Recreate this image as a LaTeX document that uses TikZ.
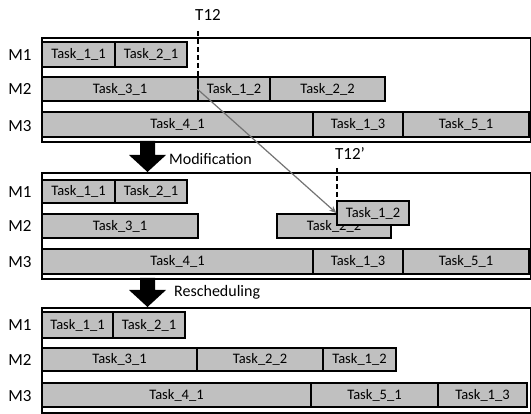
\documentclass[tikz,border=0pt]{standalone}
\usepackage{fontspec}
\setmainfont{Carlito}
\usetikzlibrary{arrows.meta}
\definecolor{taskgray}{RGB}{192,192,192}
\tikzset{
  task/.style={draw=black, line width=1.4pt, fill=taskgray, inner sep=0pt, font=\fontsize{14.5}{16}\selectfont},
  frame/.style={draw=black, line width=1.8pt},
  mlabel/.style={font=\fontsize{17}{19}\selectfont, inner sep=0pt},
  biglabel/.style={font=\fontsize{16}{18}\selectfont, inner sep=0pt, anchor=west},
  tline/.style={draw=black, line width=1.6pt, dash pattern=on 5pt off 3pt},
  bigarrow/.style={fill=black},
  moveline/.style={draw=black!55, line width=1.2pt, -{Stealth[length=7pt,width=6pt]}}
}
\newcommand\tk[6]{\node[task, minimum width={(#4-#2)*1pt}, minimum height={(#5-#3)*1pt}] (#1) at ({(#2+#4)/2},{(#3+#5)/2}) {#6};}
\begin{document}
\begin{tikzpicture}[x=1pt,y=-1pt]
\useasboundingbox (0,0) rectangle (531,414);
% panel 1
\node[frame, minimum width=489pt, minimum height=104pt, anchor=north west, inner sep=0pt] (f1) at (41,37) {};
\node[mlabel] (m11) at (20,55) {M1};
\node[mlabel] (m12) at (20,89) {M2};
\node[mlabel] (m13) at (20,126) {M3};
\tk{a11}{42}{42}{115}{67}{Task\_1\_1}
\tk{a21}{115}{42}{187}{67}{Task\_2\_1}
\tk{a31}{42}{77}{198}{101}{Task\_3\_1}
\tk{a12}{198}{77}{270}{101}{Task\_1\_2}
\tk{a22}{270}{77}{385}{101}{Task\_2\_2}
\tk{a41}{42}{112}{313}{137}{Task\_4\_1}
\tk{a13}{313}{112}{403}{137}{Task\_1\_3}
\tk{a51}{403}{112}{529}{137}{Task\_5\_1}
\node[mlabel] (t12) at (208,15) {T12};
\coordinate (t12a) at (198,31);
\coordinate (t12b) at (198,77);
\draw[tline] (t12a) -- (t12b);
% arrow 1
\fill[bigarrow] (140,141) -- (155,141) -- (155,155) -- (166,155) -- (147.5,172) -- (129,155) -- (140,155) -- cycle;
\node[biglabel] (mod) at (169,159) {Modification};
% panel 2
\node[frame, minimum width=489pt, minimum height=106pt, anchor=north west, inner sep=0pt] (f2) at (41,172) {};
\node[mlabel] (m21) at (20,192) {M1};
\node[mlabel] (m22) at (20,226) {M2};
\node[mlabel] (m23) at (20,262) {M3};
\tk{b11}{42}{180}{115}{203}{Task\_1\_1}
\tk{b21}{115}{180}{187}{203}{Task\_2\_1}
\tk{b31}{42}{214}{198}{238}{Task\_3\_1}
\tk{b22}{277}{214}{391}{238}{Task\_2\_2}
\tk{b12}{337}{201}{409}{225}{Task\_1\_2}
\tk{b41}{42}{249}{313}{274}{Task\_4\_1}
\tk{b13}{313}{249}{403}{274}{Task\_1\_3}
\tk{b51}{403}{249}{529}{274}{Task\_5\_1}
\node[mlabel] (t12p) at (350,154) {T12’};
\coordinate (t12pa) at (337,168);
\coordinate (t12pb) at (337,201);
\draw[tline] (t12pa) -- (t12pb);
\draw[moveline] (a12.west) -- (b12.west);
% arrow 2
\fill[bigarrow] (140,278) -- (155,278) -- (155,290) -- (166,290) -- (147.5,307) -- (129,290) -- (140,290) -- cycle;
\node[biglabel] (resch) at (174,292) {Rescheduling};
% panel 3
\node[frame, minimum width=489pt, minimum height=105pt, anchor=north west, inner sep=0pt] (f3) at (41,307) {};
\node[mlabel] (m31) at (20,325) {M1};
\node[mlabel] (m32) at (20,360) {M2};
\node[mlabel] (m33) at (20,396) {M3};
\tk{c11}{42}{312}{113}{338}{Task\_1\_1}
\tk{c21}{113}{312}{185}{338}{Task\_2\_1}
\tk{c31}{42}{348}{197}{371}{Task\_3\_1}
\tk{c22}{197}{348}{323}{371}{Task\_2\_2}
\tk{c12}{323}{348}{396}{371}{Task\_1\_2}
\tk{c41}{42}{383}{311}{407}{Task\_4\_1}
\tk{c51}{311}{383}{438}{407}{Task\_5\_1}
\tk{c13}{438}{383}{527}{407}{Task\_1\_3}
\end{tikzpicture}
\end{document}
